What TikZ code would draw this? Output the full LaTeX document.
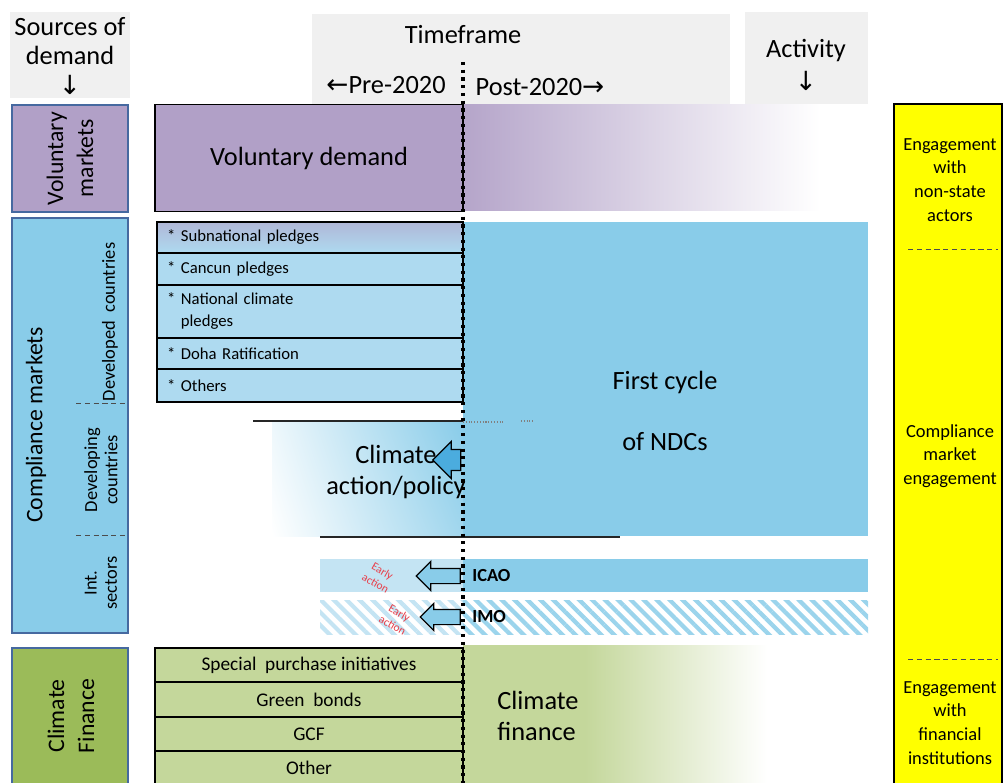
\documentclass[tikz,border=0pt]{standalone}
\usepackage{fontspec}
\setmainfont{Carlito}
\newfontfamily\arrowfont{DejaVu Sans}
\usetikzlibrary{positioning}
\usetikzlibrary{patterns.meta}
\usetikzlibrary{shapes.arrows}
\usetikzlibrary{shadings}

\definecolor{volpurple}{RGB}{177,160,199}
\definecolor{compblue}{RGB}{137,204,233}
\definecolor{pledgeblue}{RGB}{174,218,240}
\definecolor{paleblue}{RGB}{196,228,243}
\definecolor{finsource}{RGB}{155,187,89}
\definecolor{fincell}{RGB}{196,215,155}
\definecolor{headgray}{RGB}{240,240,240}
\definecolor{sideline}{RGB}{70,105,160}
\definecolor{earlyred}{RGB}{232,62,74}
\definecolor{backblue}{RGB}{75,172,222}
\definecolor{engyellow}{RGB}{255,255,0}

\tikzset{
  headtext/.style={font=\fontsize{15}{17}\selectfont, align=center, inner sep=0pt},
  sourcebox/.style={draw=sideline, line width=1.1pt, inner sep=0pt, outer sep=0pt},
  sourcetext/.style={font=\fontsize{13.5}{17}\selectfont, align=center, rotate=90, inner sep=0pt},
  subtext/.style={font=\fontsize{10.5}{11.5}\selectfont, align=center, rotate=90, inner sep=0pt},
  cell/.style={draw=black, line width=1.1pt, inner sep=0pt, outer sep=0pt},
  pledgecell/.style={cell, fill=pledgeblue, anchor=north west, align=left, inner xsep=0.2cm, text width=5.72cm, font=\fontsize{9.5}{12.5}\selectfont},
  fincellbox/.style={cell, fill=fincell, anchor=north west, minimum width=6.16cm, font=\fontsize{11}{13}\selectfont},
  bigtext/.style={font=\fontsize{15}{18}\selectfont, inner sep=0pt},
  engtext/.style={font=\fontsize{10.5}{13.5}\selectfont, align=center, inner sep=0pt},
  earlytext/.style={text=earlyred, font=\fontsize{6.5}{8}\selectfont, align=center, rotate=-30, inner sep=0pt},
  backarrow/.style={single arrow, shape border rotate=180, draw=black, line width=0.7pt, inner xsep=0pt, outer sep=0pt},
  stripes/.style={pattern={Lines[angle=-45, distance=5.2pt, line width=2.4pt]}},
  timeline/.style={line width=1.8pt, dash pattern=on 1.8pt off 2.6pt},
  thinsep/.style={densely dashed, line width=0.4pt, draw=black!70},
}

\begin{document}
\begin{tikzpicture}[x=0.02cm, y=-0.02cm]
\useasboundingbox[fill=white] (0,0) rectangle (1003,783);

% headers
\fill[headgray] (10,12) rectangle (130,98);
\node[headtext] (srchead) at (70,56) {Sources of\\demand\\{\arrowfont ↓}};
\fill[headgray] (312,14) rectangle (730,104);
\node[headtext] (timehead) at (463,35) {Timeframe};
\node[headtext] (prehead) at (386,85) {{\arrowfont ←}Pre-2020};
\node[headtext] (posthead) at (540,87) {Post-2020{\arrowfont →}};
\fill[headgray] (745,12) rectangle (868,104);
\node[headtext] (acthead) at (806,65) {Activity\\[2pt]{\arrowfont ↓}};

% voluntary markets
\node[sourcebox, fill=volpurple, minimum width=2.32cm, minimum height=2.14cm] (volsrc) at (70,158.5) {};
\node[sourcetext] (voltext) at (volsrc) {Voluntary\\markets};
\shade[left color=volpurple!95, right color=white] (463,105) rectangle (820,211);
\node[cell, fill=volpurple, minimum width=6.16cm, minimum height=2.14cm, font=\fontsize{15}{17}\selectfont] (voldemand) at (309,158) {Voluntary demand};

% compliance markets
\node[sourcebox, fill=compblue, minimum width=2.32cm, minimum height=8.3cm] (compsrc) at (70,425.5) {};
\node[sourcetext] (comptext) at (36,425) {Compliance markets};
\node[subtext] (devdtext) at (110,322) {Developed\ \ countries};
\node[subtext] (devgtext) at (101,470) {Developing\\countries};
\node[subtext] (inttext) at (101,583) {Int.\\sectors};
\draw[thinsep] (76,403) -- (128,403);
\draw[thinsep] (76,535) -- (128,535);

\fill[compblue] (463,222) rectangle (868,536);
\shade[upper left=compblue!15, lower left=white, upper right=compblue, lower right=compblue!80] (272,422) rectangle (463,536);
\node[bigtext, align=center, font=\fontsize{15}{35}\selectfont] (ndc) at (665,411) {First cycle\\of NDCs};

\node[pledgecell, top color=volpurple!60!pledgeblue, bottom color=pledgeblue, minimum height=0.62cm] (subnat) at (157,222) {* Subnational pledges};
\node[pledgecell, minimum height=0.64cm, below=0pt of subnat] (cancun) {* Cancun pledges};
\node[pledgecell, minimum height=1.06cm, below=0pt of cancun] (natpledge) {* National climate\\\phantom{* }pledges};
\node[pledgecell, minimum height=0.62cm, below=0pt of natpledge] (doha) {* Doha Ratification};
\node[pledgecell, minimum height=0.66cm, below=0pt of doha] (others) {* Others};

\draw[line width=1.2pt, black!85] (253,421) -- (463,421);
\draw[line width=1.2pt, black!85] (320,537) -- (620,537);
\draw[densely dotted, black!50, line width=0.6pt] (463,422) -- (503,422);
\draw[densely dotted, black!50, line width=0.6pt] (521,421) -- (533,421);

\node[bigtext, align=center] (climact) at (396,472) {Climate\\action/policy};
\node[backarrow, fill=backblue, minimum height=0.56cm, inner ysep=0.2cm, single arrow head extend=0.16cm] (actarrow) at (452,460) {};

% international sectors
\fill[paleblue] (320,559) rectangle (463,592);
\fill[compblue] (463,559) rectangle (868,592);
\fill[stripes, pattern color=paleblue] (320,600) rectangle (463,634);
\fill[stripes, pattern color=compblue!85] (463,600) rectangle (868,634);
\node[anchor=west, inner sep=0pt, font=\bfseries\fontsize{10.5}{12}\selectfont] (icao) at (472,576) {ICAO};
\node[anchor=west, inner sep=0pt, font=\bfseries\fontsize{10.5}{12}\selectfont] (imo) at (472,617) {IMO};
\node[backarrow, fill=compblue, minimum height=0.88cm, inner ysep=0.14cm, single arrow head extend=0.14cm] (icaoarrow) at (442,576) {};
\node[backarrow, fill=compblue, minimum height=0.8cm, inner ysep=0.14cm, single arrow head extend=0.12cm] (imoarrow) at (444,617) {};
\node[earlytext] (icaoearly) at (379,577) {Early\\action};
\node[earlytext] (imoearly) at (396,619) {Early\\action};

% climate finance
\node[sourcebox, fill=finsource, anchor=north, minimum width=2.32cm, minimum height=2.9cm] (finsrc) at (70,648) {};
\node[sourcetext] (fintext) at (71,716) {Climate\\Finance};
\fill[fincell] (463,645) rectangle (585,790);
\shade[left color=fincell, right color=white] (585,645) rectangle (767,790);
\node[fincellbox, minimum height=0.68cm] (spi) at (155,648) {Special\ \ purchase initiatives};
\node[fincellbox, minimum height=0.7cm, below=0pt of spi] (greenb) {Green\ \ bonds};
\node[fincellbox, minimum height=0.68cm, below=0pt of greenb] (gcf) {GCF};
\node[fincellbox, minimum height=0.68cm, below=0pt of gcf] (otherf) {Other};
\node[bigtext, anchor=west, align=left] (clfin) at (497,716) {Climate\\finance};

% activity column
\node[draw=black, line width=1.3pt, fill=engyellow, anchor=north west, minimum width=2.16cm, minimum height=14cm, inner sep=0pt, outer sep=0pt] (engcol) at (894,104) {};
\node[engtext] (engnsa) at (950,180) {Engagement\\with\\non-state\\actors};
\draw[thinsep] (908,249) -- (998,249);
\node[engtext] (engcm) at (950,456) {Compliance\\market\\engagement};
\draw[thinsep] (908,659) -- (998,659);
\node[engtext] (engfin) at (950,723) {Engagement\\with\\financial\\institutions};

% timeline split
\coordinate (tltop) at (463,62);
\coordinate (tlbot) at (463,790);
\draw[timeline] (tltop) -- (tlbot);
\end{tikzpicture}
\end{document}
